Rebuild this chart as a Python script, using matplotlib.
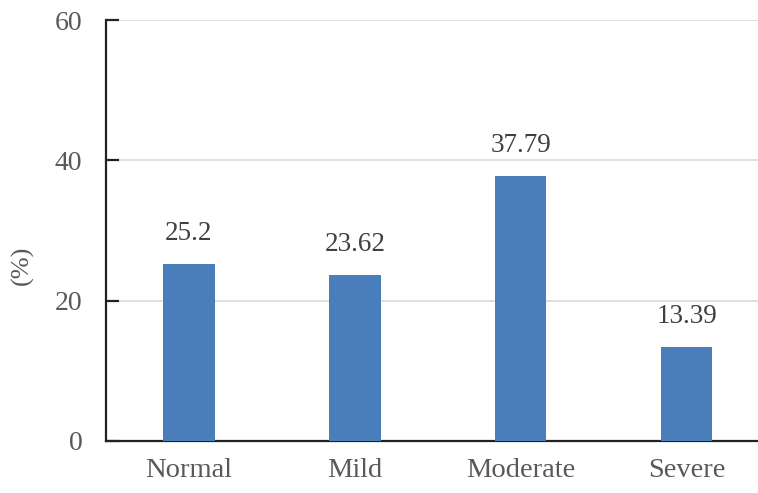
import matplotlib.pyplot as plt

categories = ["Normal", "Mild", "Moderate", "Severe"]
percent = [25.2, 23.62, 37.79, 13.39]
value_labels = ["25.2", "23.62", "37.79", "13.39"]

plt.rcParams['font.family'] = ['Liberation Serif', 'DejaVu Serif']

fig = plt.figure(figsize=(7.58, 4.93), dpi=100)
ax = fig.add_axes([106 / 758, 1 - 441 / 493, 652 / 758, 421 / 493])

x = range(len(categories))
bars = ax.bar(x, percent, width=0.31, color="#4a7ebb", zorder=3)
for rect, txt in zip(bars, value_labels):
    ax.text(rect.get_x() + rect.get_width() / 2, rect.get_height() + 2.6, txt,
            ha="center", va="bottom", fontsize=19.5, color="#404040")

ax.set_ylim(0, 60)
ax.set_xlim(-0.5, 3.43)
ax.set_yticks([0, 20, 40, 60])
ax.set_xticks(list(x))
ax.set_xticklabels(categories)
ax.yaxis.grid(True, color="#d9d9d9", linewidth=1.2, zorder=0)
ax.set_axisbelow(True)

for side in ("top", "right"):
    ax.spines[side].set_visible(False)
for side in ("left", "bottom"):
    ax.spines[side].set_linewidth(1.6)
    ax.spines[side].set_color("#222222")

ax.tick_params(axis="y", direction="in", length=9, width=1.6, color="#222222",
               labelsize=20, labelcolor="#595959", pad=17)
ax.tick_params(axis="x", length=0, labelsize=20.5, labelcolor="#595959", pad=12)

fig.text(22 / 758, 1 - 265 / 493, "(%)", rotation=90, ha="center", va="center",
         fontsize=19, color="#595959")

fig.savefig("out.png", dpi=100)
